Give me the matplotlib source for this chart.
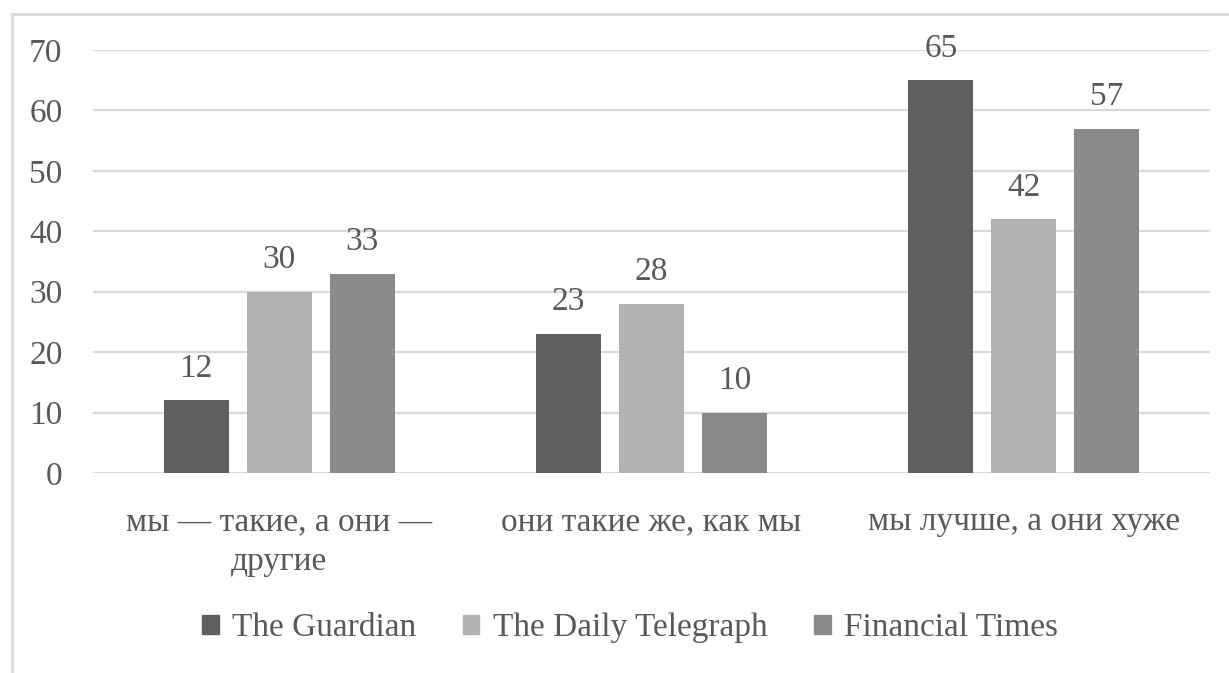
import matplotlib
matplotlib.use("Agg")
import matplotlib.pyplot as plt
import numpy as np
from matplotlib.lines import Line2D

plt.rcParams["font.family"] = ["Liberation Serif", "DejaVu Serif"]

categories = ["мы — такие, а они —\nдругие", "они такие же, как мы", "мы лучше, а они хуже"]
series = ["The Guardian", "The Daily Telegraph", "Financial Times"]
guardian = [12, 23, 65]
telegraph = [30, 28, 42]
ft = [33, 10, 57]
colors = ["#5f5f5f", "#b2b2b2", "#8a8a8a"]
text_color = "#595959"
grid_color = "#d9d9d9"
fs = 24

fig = plt.figure(figsize=(12.29, 6.73), dpi=100)
ax = fig.add_axes([93 / 1229, 1 - 473 / 673, 1117 / 1229, 423 / 673])

x = np.arange(len(categories))
width = 0.175
step = 0.223
for i, (name, vals) in enumerate(zip(series, [guardian, telegraph, ft])):
    pos = x + (i - 1) * step
    bars = ax.bar(pos, vals, width, color=colors[i], label=name, zorder=3)
    for b, v in zip(bars, vals):
        ax.annotate(str(v), (b.get_x() + b.get_width() / 2, v),
                    xytext=(0, 12), textcoords="offset points",
                    ha="center", va="bottom", fontsize=fs, color=text_color)

ax.set_xlim(-0.5, 2.5)
ax.set_ylim(0, 70)
ax.set_yticks(range(0, 71, 10))
ax.set_xticks(x)
ax.set_xticklabels(categories, linespacing=1.4)
ax.yaxis.grid(True, color=grid_color, linewidth=1.6, zorder=0)
ax.tick_params(axis="y", length=0, pad=22, labelsize=fs, labelcolor=text_color)
ax.tick_params(axis="x", length=0, pad=24, labelsize=fs, labelcolor=text_color)
for s in ax.spines.values():
    s.set_visible(False)

handles = [plt.Rectangle((0, 0), 1, 1, color=c) for c in colors]
fig.legend(handles, series, loc="center", bbox_to_anchor=(630 / 1229, 1 - 628 / 673),
           ncol=3, frameon=False, fontsize=fs, labelcolor=text_color,
           handlelength=0.5, handleheight=0.5, handletextpad=0.4, columnspacing=1.4)

# chart-area frame, only left and top edges visible in the crop
fig.add_artist(Line2D([12 / 1229, 12 / 1229], [0, 1 - 14 / 673], transform=fig.transFigure,
                      color=grid_color, linewidth=2))
fig.add_artist(Line2D([12 / 1229, 1], [1 - 14 / 673, 1 - 14 / 673], transform=fig.transFigure,
                      color=grid_color, linewidth=2))

fig.savefig("out.png", dpi=100)
